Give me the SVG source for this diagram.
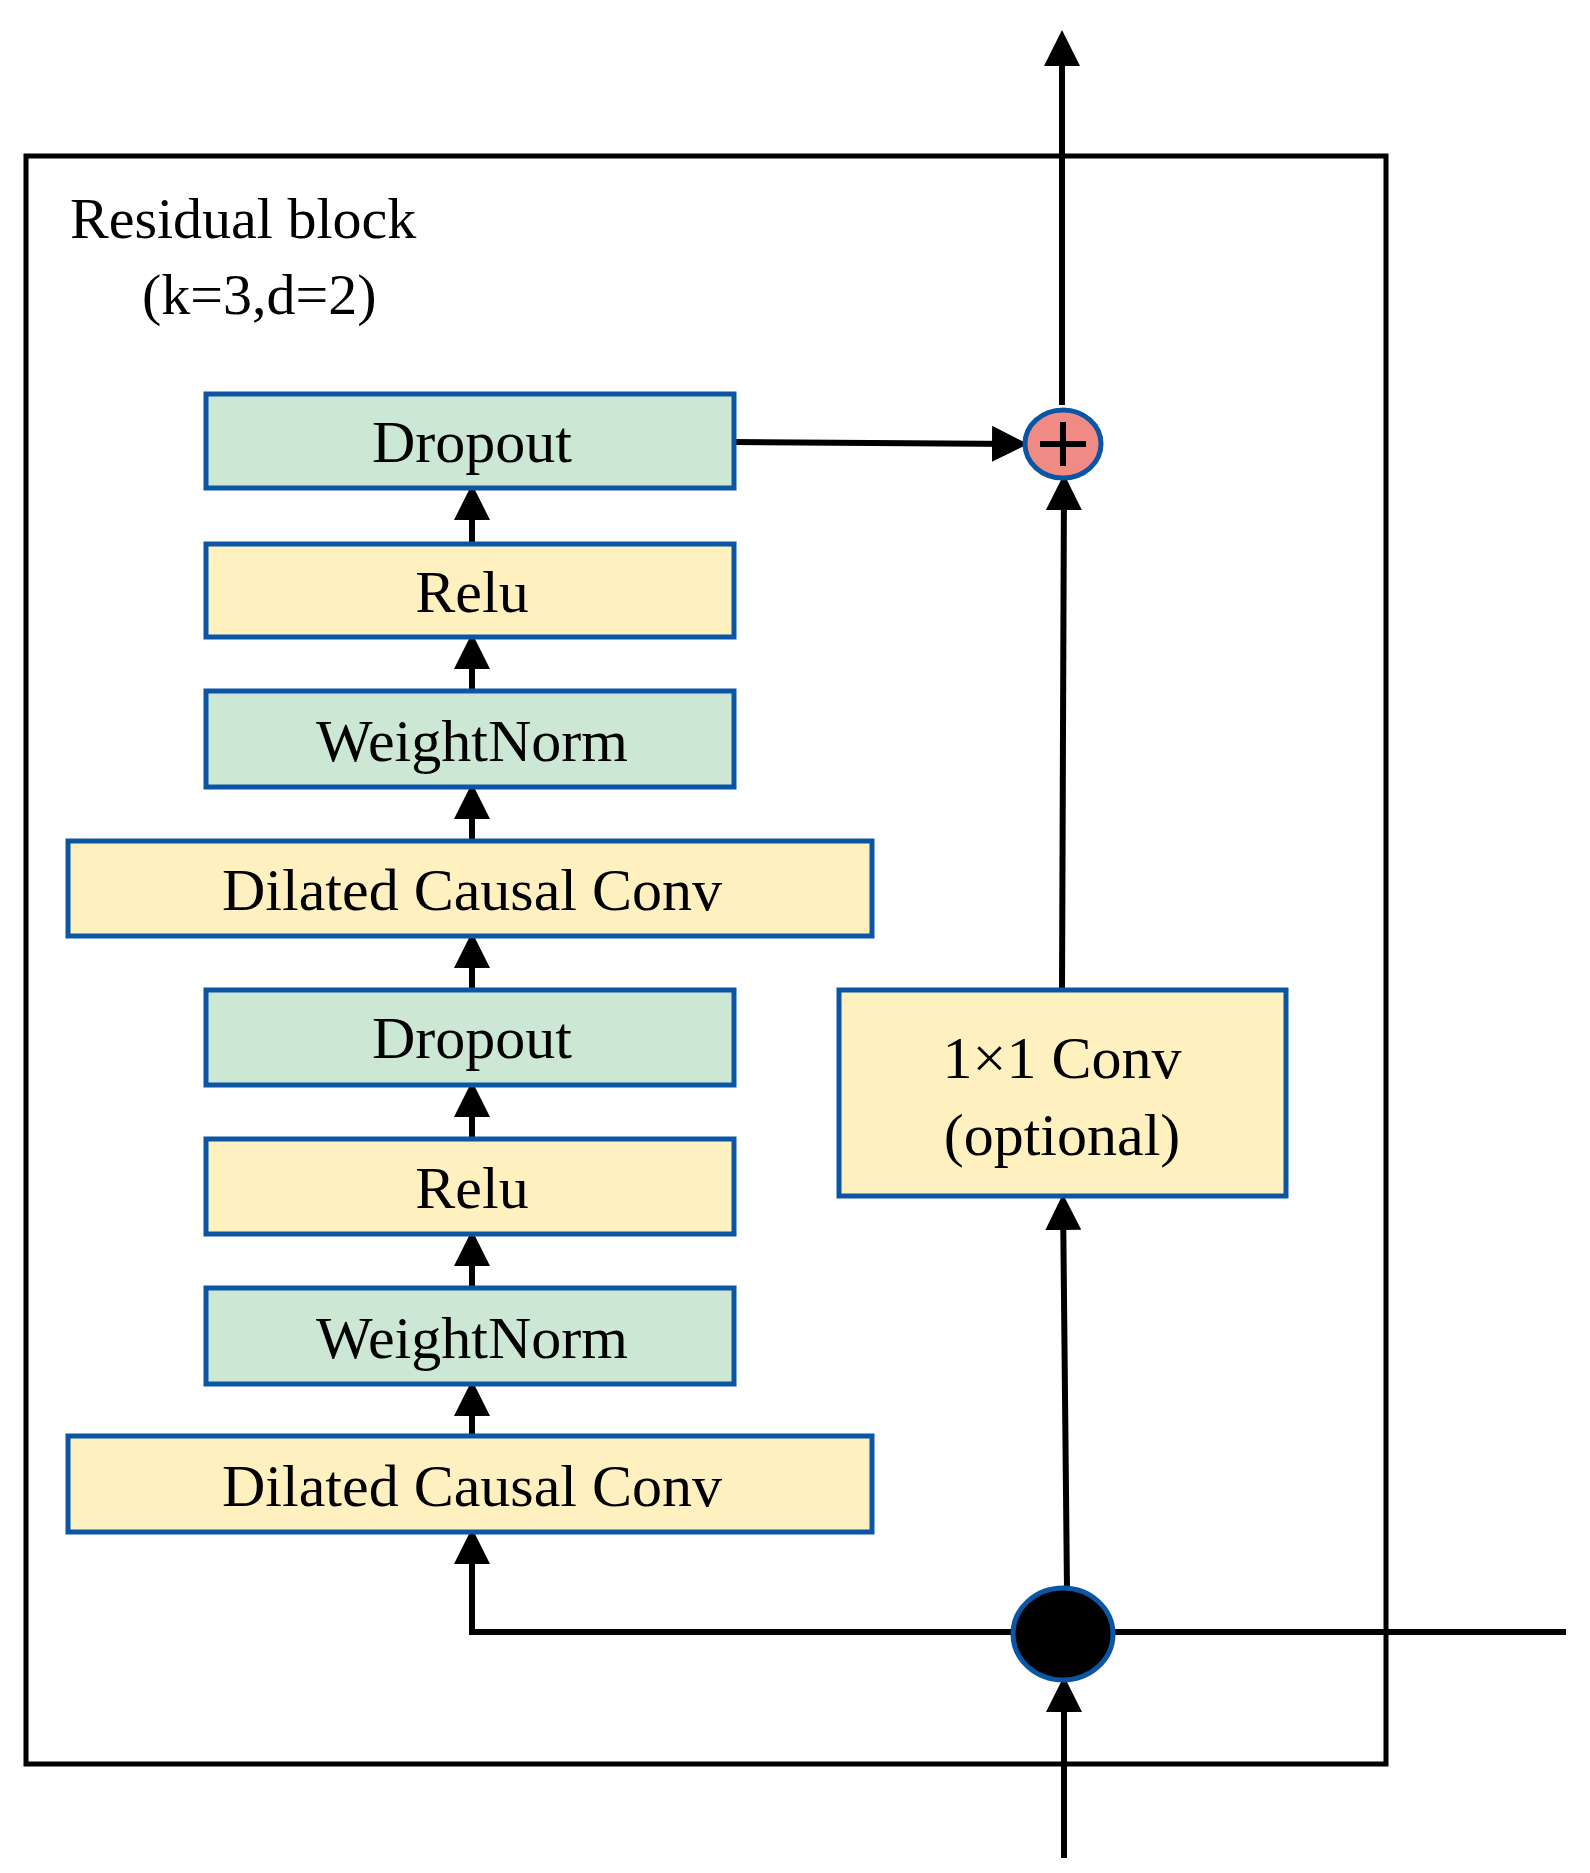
<svg xmlns="http://www.w3.org/2000/svg" width="1590" height="1873" viewBox="0 0 1590 1873">
<style>
.g{fill:#cce8d4;stroke:#0a56a4;stroke-width:5}
.y{fill:#fff0c0;stroke:#0a56a4;stroke-width:5}
.t{font-family:"Liberation Serif",serif;font-size:60px;text-anchor:middle;fill:#000}
.l{stroke:#000;stroke-width:6;fill:none}
</style>
<defs><marker id="a" markerWidth="6" markerHeight="6" refX="5" refY="3" orient="auto" markerUnits="strokeWidth"><path d="M0,0 L6,3 L0,6 Z" fill="#000"/></marker></defs>
<rect x="26" y="156" width="1360" height="1608" fill="none" stroke="#000" stroke-width="5"/>
<text x="70" y="238" font-family="Liberation Serif,serif" font-size="58">Residual block</text>
<text x="142" y="314" font-family="Liberation Serif,serif" font-size="58">(k=3,d=2)</text>
<g id="connectors">
<path class="l" d="M1062,405 V36" marker-end="url(#a)"/>
<path class="l" d="M734,442 L1022,444" marker-end="url(#a)"/>
<path class="l" d="M472,544 V490" marker-end="url(#a)"/>
<path class="l" d="M472,691 V639" marker-end="url(#a)"/>
<path class="l" d="M472,841 V789" marker-end="url(#a)"/>
<path class="l" d="M472,990 V938" marker-end="url(#a)"/>
<path class="l" d="M472,1139 V1087" marker-end="url(#a)"/>
<path class="l" d="M472,1288 V1236" marker-end="url(#a)"/>
<path class="l" d="M472,1436 V1386" marker-end="url(#a)"/>
<path class="l" d="M1062,990 L1064,480" marker-end="url(#a)"/>
<path class="l" d="M1067,1590 L1063,1200" marker-end="url(#a)"/>
<path class="l" d="M1566,1632 H472 V1534" marker-end="url(#a)"/>
<path class="l" d="M1064,1858 V1682" marker-end="url(#a)"/>
</g>
<g id="dropout1"><rect class="g" x="206" y="394" width="528" height="94"/><text class="t" x="472" y="462">Dropout</text></g>
<g id="relu1"><rect class="y" x="206" y="544" width="528" height="93"/><text class="t" x="472" y="612">Relu</text></g>
<g id="wn1"><rect class="g" x="206" y="691" width="528" height="96"/><text class="t" x="472" y="761">WeightNorm</text></g>
<g id="dcc1"><rect class="y" x="68" y="841" width="804" height="95"/><text class="t" x="472" y="910">Dilated Causal Conv</text></g>
<g id="dropout2"><rect class="g" x="206" y="990" width="528" height="95"/><text class="t" x="472" y="1058">Dropout</text></g>
<g id="relu2"><rect class="y" x="206" y="1139" width="528" height="95"/><text class="t" x="472" y="1208">Relu</text></g>
<g id="wn2"><rect class="g" x="206" y="1288" width="528" height="96"/><text class="t" x="472" y="1358">WeightNorm</text></g>
<g id="dcc2"><rect class="y" x="68" y="1436" width="804" height="96"/><text class="t" x="472" y="1506">Dilated Causal Conv</text></g>
<g id="conv1x1"><rect class="y" x="839" y="990" width="447" height="206"/><text class="t" x="1062" y="1078">1×1 Conv</text><text class="t" x="1062" y="1155">(optional)</text></g>
<g id="add"><ellipse cx="1063" cy="444" rx="38" ry="34" fill="#f08a84" stroke="#0a56a4" stroke-width="5"/><path d="M1040,444 H1086 M1063,422 V466" stroke="#000" stroke-width="6"/></g>
<g id="split"><ellipse cx="1063" cy="1634" rx="50" ry="46" fill="#000" stroke="#0a56a4" stroke-width="5"/></g>
</svg>
